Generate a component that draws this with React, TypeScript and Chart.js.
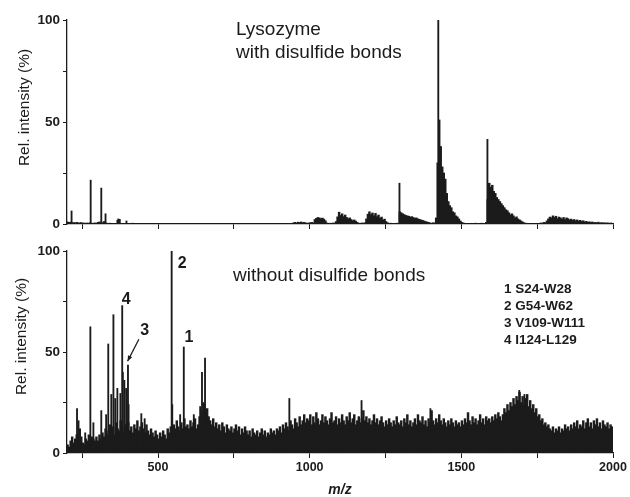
import React, { useEffect, useRef } from "react";
import { Chart, registerables } from "chart.js";

Chart.register(...registerables);

// ---------- DATA ----------
const MZ_START = 200;
const MZ_STEP = 5;

// top spectrum (with disulfide bonds): continuous trace sampled every 5 m/z from 200 to 2000
const topTrace: number[] = [
  1.2, 1, 0.8, 0.9, 0.6, 0.7, 0.5, 0.8, 0.6, 0.5, 0.7, 0.4, 0.5, 0.3, 0.5, 0.4, 0.6, 0.3, 0.4, 0.5,
  0.4, 0.8, 1, 0.5, 0.6, 1.2, 0.5, 0.4, 0.3, 0.4, 0.3, 0.3, 0.2, 0.3, 1.8, 0.4, 0.3, 0.2, 0.3, 0.2,
  0.3, 0.2, 0.3, 0.2, 0.4, 0.2, 0.3, 0.2, 0.3, 0.2, 0.2, 0.3, 0.2, 0.3, 0.2, 0.2, 0.3, 0.2, 0.3, 0.2,
  0.2, 0.3, 0.2, 0.2, 0.3, 0.2, 0.3, 0.2, 0.2, 0.3, 0.2, 0.3, 0.2, 0.2, 0.3, 0.2, 0.2, 0.3, 0.2, 0.3,
  0.2, 0.2, 0.3, 0.2, 0.3, 0.2, 0.2, 0.3, 0.2, 0.3, 0.2, 0.2, 0.3, 0.2, 0.3, 0.2, 0.2, 0.3, 0.2, 0.2,
  0.3, 0.2, 0.2, 0.3, 0.2, 0.3, 0.2, 0.2, 0.3, 0.2, 0.2, 0.3, 0.2, 0.3, 0.2, 0.2, 0.3, 0.2, 0.2, 0.3,
  0.2, 0.3, 0.2, 0.2, 0.3, 0.2, 0.3, 0.2, 0.2, 0.3, 0.2, 0.3, 0.2, 0.2, 0.3, 0.2, 0.3, 0.2, 0.2, 0.3,
  0.2, 0.3, 0.2, 0.3, 0.2, 0.2, 0.3, 0.2, 0.3, 0.2, 0.6, 0.8, 0.5, 0.9, 0.7, 1, 0.6, 0.8, 0.5, 0.4,
  0.5, 0.6, 0.8, 0.5, 2.2, 2.8, 3.2, 3, 2.6, 2.9, 2.4, 1.6, 0.5, 0.3, 0.4, 0.3, 0.5, 0.4, 1.2, 3.5,
  5.8, 4.2, 5, 3.6, 4.4, 3.2, 2.6, 3, 2.2, 1.6, 2, 1.4, 0.8, 0.4, 0.3, 0.5, 0.4, 0.6, 2.5, 4.8,
  6, 4.6, 5.4, 4, 5.2, 3.6, 4.4, 2.8, 3.4, 2, 2.4, 1.2, 0.6, 0.3, 0.4, 0.2, 0.3, 0.2, 0.4, 0.3,
  6, 5.5, 5, 4.6, 4.2, 4, 3.8, 3.4, 3.6, 3.2, 2.8, 3, 2.5, 2.3, 2, 1.8, 1.5, 1.2, 1, 0.8,
  0.5, 0.4, 0.6, 0.5, 3, 30, 51, 38, 28, 25, 22, 15, 11, 9, 8, 6, 5.5, 4, 3.5, 2.5,
  1.5, 0.8, 0.5, 0.3, 0.2, 0.3, 0.2, 0.3, 0.2, 0.3, 0.4, 0.3, 0.2, 0.3, 0.4, 0.3, 0.2, 0.8, 12, 20,
  18, 19, 16, 15, 13, 12, 11, 10, 9, 8, 7, 6.5, 5.5, 4.5, 5, 4, 3, 3.5, 2.5, 2,
  1.5, 1, 0.6, 0.4, 0.3, 0.2, 0.3, 0.2, 0.3, 0.2, 0.3, 0.2, 0.3, 0.5, 0.4, 0.8, 0.6, 1.5, 2.5, 3.4,
  3, 4, 3.2, 3.8, 2.6, 3.4, 3, 2.4, 3.2, 2.2, 3, 2.6, 2, 2.4, 1.8, 2.2, 1.6, 2, 1.4, 1.8,
  1.2, 1.6, 1, 1.3, 0.8, 1.1, 0.7, 1, 0.6, 0.8, 0.5, 0.9, 0.4, 0.7, 0.5, 0.6, 0.4, 0.6, 0.3, 0.5,
  0.4,
];
// top spectrum: isolated sharp peaks
const topPeakMz: number[] = [217, 280, 315, 329, 371, 376, 398, 1298, 1426, 1588];
const topPeakInt: number[] = [6.4, 21.5, 17.6, 5, 2.5, 2.3, 1.5, 20, 100, 41.5];

// bottom spectrum (without disulfide bonds): continuous trace sampled every 5 m/z from 200 to 2000
const bottomTrace: number[] = [
  2, 4, 3, 6, 8, 5, 7, 9, 6, 12, 8, 5, 4, 7, 6, 9, 5, 8, 7, 6,
  8, 6, 9, 7, 10, 8, 12, 9, 11, 14, 10, 13, 9, 15, 12, 11, 16, 13, 10, 14,
  12, 15, 11, 13, 10, 14, 12, 16, 11, 13, 15, 12, 10, 14, 11, 9, 12, 10, 8, 11,
  9, 7, 10, 8, 11, 9, 7, 12, 10, 13, 11, 14, 12, 16, 13, 11, 15, 12, 17, 13,
  14, 12, 16, 13, 15, 17, 12, 14, 18, 15, 21, 24, 20, 22, 18, 16, 14, 17, 13, 15,
  12, 14, 11, 15, 13, 10, 14, 12, 11, 13, 10, 12, 14, 11, 13, 9, 12, 10, 13, 11,
  9, 11, 8, 12, 10, 9, 11, 8, 10, 12, 9, 11, 8, 10, 9, 12, 10, 11, 9, 12,
  11, 13, 10, 14, 12, 15, 13, 11, 16, 14, 12, 17, 15, 13, 18, 14, 16, 19, 15, 17,
  16, 19, 14, 18, 15, 20, 17, 14, 16, 19, 15, 18, 16, 14, 17, 20, 15, 16, 18, 14,
  17, 15, 19, 16, 14, 18, 16, 20, 15, 17, 19, 14, 16, 18, 15, 17, 21, 16, 18, 15,
  17, 14, 16, 19, 15, 17, 14, 16, 18, 15, 13, 16, 14, 17, 15, 13, 16, 14, 18, 15,
  14, 16, 13, 17, 15, 19, 14, 16, 13, 15, 17, 14, 19, 16, 15, 18, 14, 16, 13, 17,
  15, 21, 16, 14, 17, 15, 19, 16, 14, 17, 15, 13, 16, 14, 17, 15, 13, 16, 14, 15,
  13, 16, 14, 17, 15, 20, 16, 14, 18, 15, 17, 14, 16, 19, 15, 17, 14, 18, 16, 17,
  15, 18, 16, 19, 17, 20, 18, 16, 19, 22, 20, 24, 21, 25, 23, 27, 24, 28, 26, 30,
  25, 28, 24, 27, 29, 23, 26, 22, 24, 20, 22, 18, 19, 16, 17, 14, 15, 13, 14, 12,
  11, 13, 10, 12, 11, 13, 10, 12, 11, 14, 12, 13, 11, 14, 12, 15, 13, 16, 12, 14,
  13, 16, 12, 15, 17, 13, 15, 12, 16, 14, 17, 13, 15, 12, 16, 14, 13, 15, 12, 14,
  13,
];
// bottom spectrum: isolated sharp peaks
const bottomPeakMz: number[] = [
  235, 240, 262, 279, 289, 315, 331, 338, 348, 355, 361, 368, 378, 384, 386, 391, 397, 403, 405,
  447, 458, 547, 549, 575, 587, 620, 641, 647, 652, 657, 660, 935, 1173, 1400, 1693, 1710,
];
const bottomPeakInt: number[] = [
  22, 16, 10, 62.5, 15, 21, 19, 54, 29, 68.5, 27, 32, 29.5, 73, 40, 36, 32, 43.5, 24,
  19.5, 17, 100, 24, 19, 52.5, 19, 23, 40, 25, 47, 21, 27, 26, 22, 31, 29,
];

// axes
const X_MIN = 200;
const X_MAX = 2000;
const xTickValues: number[] = [250, 500, 750, 1000, 1250, 1500, 1750, 2000];
const xTickLabels: number[] = [500, 1000, 1500, 2000];
const yTickValues: number[] = [0, 25, 50, 75, 100];
const yTickLabels: number[] = [0, 50, 100];

// texts
const yTitle = "Rel. intensity (%)";
const xTitle = "m/z";
const topTitle: string[] = ["Lysozyme", "with disulfide bonds"];
const bottomTitle = "without disulfide bonds";
const legendLines: string[] = ["1 S24-W28", "2 G54-W62", "3 V109-W111", "4 I124-L129"];
const peakLabelText: string[] = ["1", "2", "3", "4"];
const peakLabelMz: number[] = [587, 547, 403, 384];

// ---------- STYLE ----------
const INK = "#1b1b1b";
const FONT = '"Liberation Sans", Arial, Helvetica, sans-serif';
const labelOffsets: Record<string, [number, number]> = {
  "1": [4.5, -9.5],
  "2": [10, 12.5],
  "3": [16, -35],
  "4": [3.5, -6.5],
};

function traceToPoints(trace: number[]) {
  return trace.map((v, i) => ({ x: MZ_START + i * MZ_STEP, y: v }));
}
function peaksToPoints(mz: number[], it: number[]) {
  return mz.map((m, i) => ({ x: m, y: it[i] }));
}

function buildConfig(
  trace: number[],
  peakMz: number[],
  peakInt: number[],
  showXLabels: boolean,
  padTop: number,
  xAxisHeight: number,
  drawExtras: (chart: any) => void
): any {
  return {
    type: "bar",
    data: {
      datasets: [
        {
          data: traceToPoints(trace),
          backgroundColor: INK,
          borderWidth: 0,
          barThickness: 1.8,
          stack: "spectrum",
        },
        {
          data: peaksToPoints(peakMz, peakInt),
          backgroundColor: INK,
          borderWidth: 0,
          barThickness: 1.2,
          stack: "spectrum",
        },
      ],
    },
    options: {
      animation: false,
      responsive: false,
      maintainAspectRatio: false,
      devicePixelRatio: 1,
      layout: { padding: { top: padTop, right: 17, bottom: 0, left: 0 } },
      plugins: { legend: { display: false }, tooltip: { enabled: false } },
      scales: {
        x: {
          type: "linear",
          min: X_MIN,
          max: X_MAX,
          offset: false,
          stacked: false,
          afterBuildTicks: (s: any) => {
            s.ticks = xTickValues.map((v) => ({ value: v }));
          },
          afterFit: (s: any) => {
            s.height = xAxisHeight;
          },
          ticks: {
            autoSkip: false,
            maxRotation: 0,
            padding: 2,
            color: INK,
            font: { family: FONT, size: 12.5, weight: "bold" },
            callback: (v: any) => (showXLabels && xTickLabels.includes(Number(v)) ? String(v) : ""),
          },
          grid: {
            offset: false,
            drawOnChartArea: false,
            drawTicks: true,
            tickLength: 5,
            color: INK,
            lineWidth: 1,
          },
          border: { display: true, color: INK, width: 1.3 },
        },
        y: {
          type: "linear",
          min: 0,
          max: 100,
          stacked: false,
          afterBuildTicks: (s: any) => {
            s.ticks = yTickValues.map((v) => ({ value: v }));
          },
          afterFit: (s: any) => {
            s.width = 67;
          },
          ticks: {
            autoSkip: false,
            padding: 3,
            color: INK,
            font: { family: FONT, size: 13.5, weight: "bold" },
            callback: (v: any) => (yTickLabels.includes(Number(v)) ? String(v) : ""),
          },
          grid: {
            drawOnChartArea: false,
            drawTicks: true,
            tickLength: 4,
            color: INK,
            lineWidth: 1,
          },
          border: { display: true, color: INK, width: 1.3 },
        },
      },
    },
    plugins: [
      {
        id: "extras",
        afterDraw: (chart: any) => drawExtras(chart),
      },
    ],
  };
}

function drawYTitle(ctx: CanvasRenderingContext2D, cx: number, cy: number) {
  ctx.save();
  ctx.translate(cx, cy);
  ctx.rotate(-Math.PI / 2);
  ctx.textAlign = "center";
  ctx.textBaseline = "middle";
  ctx.fillStyle = INK;
  ctx.font = `15.5px ${FONT}`;
  ctx.fillText(yTitle, 0, 0);
  ctx.restore();
}

function drawTop(chart: any) {
  const ctx: CanvasRenderingContext2D = chart.ctx;
  ctx.save();
  ctx.fillStyle = INK;
  ctx.font = `19px ${FONT}`;
  ctx.textAlign = "left";
  ctx.textBaseline = "alphabetic";
  ctx.fillText(topTitle[0], 236, 35);
  ctx.fillText(topTitle[1], 236, 58);
  ctx.restore();
  drawYTitle(ctx, 25, 107.5);
}

function drawBottom(chart: any) {
  const ctx: CanvasRenderingContext2D = chart.ctx;
  const xs = chart.scales.x;
  const ys = chart.scales.y;
  ctx.save();
  ctx.fillStyle = INK;
  ctx.font = `19px ${FONT}`;
  ctx.textAlign = "left";
  ctx.textBaseline = "alphabetic";
  ctx.fillText(bottomTitle, 233, 40.7);

  ctx.font = `bold 13.5px ${FONT}`;
  ctx.textBaseline = "middle";
  legendLines.forEach((t, i) => ctx.fillText(t, 504, 49 + i * 17));

  // peak labels
  ctx.font = `bold 16px ${FONT}`;
  ctx.textAlign = "center";
  peakLabelText.forEach((t, i) => {
    const mz = peakLabelMz[i];
    const idx = bottomPeakMz.indexOf(mz);
    const px = xs.getPixelForValue(mz);
    const py = ys.getPixelForValue(bottomPeakInt[idx]);
    const [dx, dy] = labelOffsets[t];
    ctx.fillText(t, px + dx, py + dy);
  });

  // arrow for label 3
  const i3 = bottomPeakMz.indexOf(403);
  const ax = xs.getPixelForValue(403) - 1;
  const ay = ys.getPixelForValue(bottomPeakInt[i3]) - 4;
  const sx = ax + 11.3;
  const sy = ay - 22;
  ctx.strokeStyle = INK;
  ctx.lineWidth = 1.3;
  ctx.beginPath();
  ctx.moveTo(sx, sy);
  ctx.lineTo(ax, ay);
  ctx.stroke();
  const ang = Math.atan2(ay - sy, ax - sx);
  const hl = 6;
  ctx.beginPath();
  ctx.moveTo(ax, ay);
  ctx.lineTo(ax - hl * Math.cos(ang - 0.4), ay - hl * Math.sin(ang - 0.4));
  ctx.lineTo(ax - hl * Math.cos(ang + 0.4), ay - hl * Math.sin(ang + 0.4));
  ctx.closePath();
  ctx.fill();

  // x title
  ctx.font = `italic bold 14px ${FONT}`;
  ctx.textAlign = "center";
  ctx.textBaseline = "middle";
  ctx.fillText(xTitle, (chart.chartArea.left + chart.chartArea.right) / 2, 250);
  ctx.restore();
  drawYTitle(ctx, 21.5, 96.5);
}

export default function App() {
  const topRef = useRef<HTMLCanvasElement>(null);
  const botRef = useRef<HTMLCanvasElement>(null);

  useEffect(() => {
    const c1 = new Chart(
      topRef.current as HTMLCanvasElement,
      buildConfig(topTrace, topPeakMz, topPeakInt, false, 20, 16, drawTop)
    );
    const c2 = new Chart(
      botRef.current as HTMLCanvasElement,
      buildConfig(bottomTrace, bottomPeakMz, bottomPeakInt, true, 8, 44, drawBottom)
    );
    return () => {
      c1.destroy();
      c2.destroy();
    };
  }, []);

  return (
    <div
      style={{
        position: "fixed",
        left: 0,
        top: 0,
        width: 630,
        height: 497,
        background: "#fff",
        overflow: "hidden",
      }}
    >
      <canvas
        ref={topRef}
        width={630}
        height={240}
        style={{ position: "absolute", left: 0, top: 0, width: 630, height: 240 }}
      />
      <canvas
        ref={botRef}
        width={630}
        height={257}
        style={{ position: "absolute", left: 0, top: 240, width: 630, height: 257 }}
      />
    </div>
  );
}
